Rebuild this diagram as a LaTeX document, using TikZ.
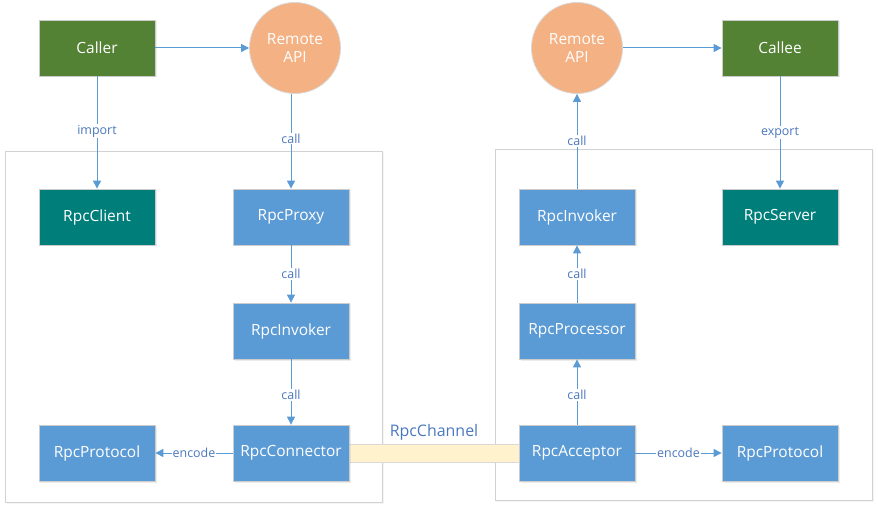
\documentclass[tikz,border=0pt]{standalone}
\usepackage{fontspec}
\setmainfont{Open Sans}
\usetikzlibrary{arrows.meta,shadows}
\definecolor{cgreen}{HTML}{548235}
\definecolor{cteal}{HTML}{007E7A}
\definecolor{cblue}{HTML}{5B9BD5}
\definecolor{corange}{HTML}{F4B183}
\definecolor{cline}{HTML}{5B9BD5}
\definecolor{ctext}{HTML}{4A78BE}
\definecolor{cframe}{HTML}{D0D3D6}
\definecolor{cyel}{HTML}{FFF2CC}
\begin{document}
\begin{tikzpicture}[x=1bp,y=-1bp,
  box/.style={draw=black!20,line width=0.8bp,minimum width=116bp,minimum height=56bp,inner sep=0pt,
    text=white,font=\fontsize{15.5}{18}\selectfont,drop shadow={opacity=0.15,shadow xshift=1.5bp,shadow yshift=-1.5bp}},
  gbox/.style={box,fill=cgreen},
  tbox/.style={box,fill=cteal},
  bbox/.style={box,fill=cblue},
  api/.style={circle,draw=black!15,line width=0.8bp,fill=corange,minimum size=91bp,inner sep=0pt,
    text=white,font=\fontsize{15.5}{19}\selectfont,align=center},
  conn/.style={draw=cline,line width=1bp,-{Triangle[length=8bp,width=8bp]}},
  lab/.style={fill=white,text=ctext,font=\fontsize{12.5}{14}\selectfont,inner sep=1bp},
  frame/.style={draw=cframe,line width=1bp}]
\useasboundingbox (0,0) rectangle (878,510);
% containers
\draw[frame,drop shadow={opacity=0.08,shadow xshift=1.5bp,shadow yshift=-1.5bp},fill=white] (5,152) rectangle (382,502);
\draw[frame,drop shadow={opacity=0.08,shadow xshift=1.5bp,shadow yshift=-1.5bp},fill=white] (495,150) rectangle (872,500);
% channel
\node[draw=black!15,fill=cyel,minimum width=170bp,minimum height=18bp,inner sep=0pt] (chan) at (434,453) {};
\node[text=ctext,font=\fontsize{16}{18}\selectfont,anchor=south,inner sep=1bp] (chanlab) at (434,442) {RpcChannel};
% top
\node[gbox] (caller) at (97,48) {Caller};
\node[api] (api1) at (295,48) {Remote\\API};
\node[api] (api2) at (577,48) {Remote\\API};
\node[gbox] (callee) at (780,48) {Callee};
% left
\node[tbox] (client) at (97,217) {RpcClient};
\node[bbox] (proxy) at (291,217) {RpcProxy};
\node[bbox] (inv1) at (291,331) {RpcInvoker};
\node[bbox] (connector) at (291,453) {RpcConnector};
\node[bbox] (prot1) at (97,453) {RpcProtocol};
% right
\node[bbox] (inv2) at (577,217) {RpcInvoker};
\node[tbox] (server) at (780,217) {RpcServer};
\node[bbox] (proc) at (577,331) {RpcProcessor};
\node[bbox] (acc) at (577,453) {RpcAcceptor};
\node[bbox] (prot2) at (780,453) {RpcProtocol};
% connectors
\draw[conn] (caller) -- (api1);
\draw[conn] (api2) -- (callee);
\draw[conn] (caller) -- node[lab,pos=0.49] {import} (client);
\draw[conn] (api1.south -| proxy) -- node[lab,pos=0.47] {call} (proxy);
\draw[conn] (proxy) -- node[lab] {call} (inv1);
\draw[conn] (inv1) -- node[lab,pos=0.55] {call} (connector);
\draw[conn] (connector) -- node[lab] {encode} (prot1);
\draw[conn] (inv2) -- node[lab,pos=0.5] {call} (api2);
\draw[conn] (callee) -- node[lab,pos=0.5] {export} (server);
\draw[conn] (proc) -- node[lab] {call} (inv2);
\draw[conn] (acc) -- node[lab,pos=0.45] {call} (proc);
\draw[conn] (acc) -- node[lab] {encode} (prot2);
\end{tikzpicture}
\end{document}
